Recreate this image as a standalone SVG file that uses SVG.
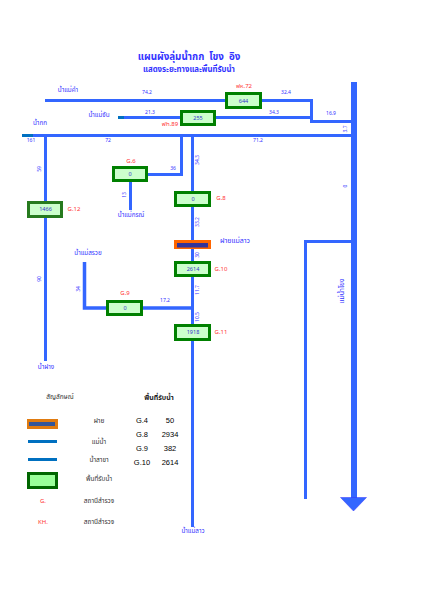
<svg xmlns="http://www.w3.org/2000/svg" width="421" height="598" viewBox="0 0 421 598">
<style>
text{font-family:"Noto Sans","Noto Sans Thai","Liberation Sans",sans-serif;text-anchor:middle}
.r{fill:none;stroke:#3366ff;stroke-width:3}
.b{fill:#ccffcc;stroke:#008000;stroke-width:3}
.n{font-size:5.5px;fill:#3333cc}
.d{font-size:5px;fill:#3333ff}
.l{font-size:6.3px;fill:#3333ff}
.s{font-size:6px;fill:#ff3333}
.k{font-size:6.5px;fill:#333333}
.t{font-size:7.5px;fill:#000000;font-family:"Liberation Sans",sans-serif}
</style>
<rect width="421" height="598" fill="#ffffff"/>
<g id="connectors">
<path class="r" d="M45 100.500H226M261 100.500H311.500V121.500H352"/>
<path class="r" d="M118 117.500H180M216 117.500H311"/>
<path class="r" d="M22 135.500H352"/>
<path class="r" d="M45.500 135V361"/>
<path class="r" d="M181.500 135V174.500H147"/>
<path class="r" d="M130.500 181V210"/>
<path class="r" d="M192.500 135V527"/>
<path class="r" d="M84.500 262V308H107M142 308H192" style="stroke-width:3.500"/>
<path class="r" d="M305.500 499V241.500H352"/>
<path d="M118 117.500h6M22 135.500h11" fill="none" stroke="#0070c0" stroke-width="3"/>
<rect x="351" y="82" width="6" height="416" fill="#3366ff"/>
<polygon points="340.500,497.500 366.500,497.500 353.500,511" fill="#3366ff" stroke="#3333ff" stroke-width="0.500"/>
</g>
<g id="title">
<text x="189" y="60" font-size="9.800" font-weight="bold" fill="#3333ff">แผนผังลุ่มน้ำกก&#160;&#160;โขง&#160;&#160;อิง</text>
<text x="189" y="72" font-size="7.800" font-weight="bold" fill="#3333ff">แสดงระยะทางและพื้นที่รับน้ำ</text>
</g>
<g id="node-kh72"><rect class="b" x="226.500" y="93.500" width="34" height="14"/><text class="n" x="243.500" y="102.500">644</text><text class="s" x="244" y="88">ฟห.72</text></g>
<g id="node-kh89"><rect class="b" x="181.500" y="111.500" width="33" height="13"/><text class="n" x="198" y="119.500">255</text><text class="s" x="170" y="125.500">ฟh.89</text></g>
<g id="node-g6"><rect class="b" x="113.500" y="167.500" width="33" height="13"/><text class="n" x="130" y="176">0</text><text class="s" x="131" y="162.500">G.6</text></g>
<g id="node-g8"><rect class="b" x="175.500" y="192.500" width="34" height="13"/><text class="n" x="193" y="200.500">0</text><text class="s" x="221" y="199.500">G.8</text></g>
<g id="node-g12"><rect class="b" x="28.500" y="202.500" width="33" height="14" style="stroke:#267a1e"/><text class="n" x="45.500" y="210.500">1466</text><text class="s" x="74" y="210.500">G.12</text></g>
<g id="node-weir"><rect x="174" y="240" width="37" height="9" fill="#ff6600"/><rect x="177" y="243" width="31" height="4.500" fill="#333399"/><text class="l" style="font-size:7px" x="235" y="243">ฝายแม่ลาว</text></g>
<g id="node-g10"><rect class="b" x="175.500" y="262.500" width="34" height="13"/><text class="n" x="193" y="271">2614</text><text class="s" x="221" y="271">G.10</text></g>
<g id="node-g9"><rect class="b" x="107.500" y="301.500" width="34" height="13"/><text class="n" x="125" y="309.500">0</text><text class="s" x="125" y="295">G.9</text></g>
<g id="node-g11"><rect class="b" x="175.500" y="325.500" width="34" height="14"/><text class="n" x="193" y="334">1918</text><text class="s" x="221" y="334">G.11</text></g>
<g id="labels">
<text class="l" x="68" y="92">น้ำแม่คำ</text>
<text class="l" x="99" y="117">น้ำแม่จัน</text>
<text class="l" x="40" y="125">น้ำกก</text>
<text class="l" x="131" y="217">น้ำแม่กรณ์</text>
<text class="l" x="88" y="255">น้ำแม่สรวย</text>
<text class="l" x="46" y="369">น้ำฝาง</text>
<text class="l" x="193" y="533">น้ำแม่ลาว</text>
<text class="l" style="font-size:7px" transform="translate(344,291) rotate(-90)">แม่น้ำโขง</text>
<text class="d" x="147" y="94">74.2</text>
<text class="d" x="286" y="94">32.4</text>
<text class="d" x="150" y="114">21.3</text>
<text class="d" x="274" y="114">34.3</text>
<text class="d" x="331" y="115">16.9</text>
<text class="d" x="31" y="142">161</text>
<text class="d" x="108" y="142">72</text>
<text class="d" x="258" y="142">71.2</text>
<text class="d" x="173" y="170">36</text>
<text class="d" transform="translate(347,129) rotate(-90)">3.7</text>
<text class="d" transform="translate(199,160) rotate(-90)">34.3</text>
<text class="d" transform="translate(41,169) rotate(-90)">59</text>
<text class="d" transform="translate(126,195) rotate(-90)">13</text>
<text class="d" transform="translate(199,222) rotate(-90)">33.2</text>
<text class="d" transform="translate(199,255) rotate(-90)">30</text>
<text class="d" transform="translate(199,290) rotate(-90)">11.7</text>
<text class="d" transform="translate(199,317) rotate(-90)">10.5</text>
<text class="d" transform="translate(41,279) rotate(-90)">90</text>
<text class="d" transform="translate(80,289) rotate(-90)">34</text>
<text class="d" x="165" y="302">17.2</text>
<text class="d" transform="translate(347,186) rotate(-90)">0</text>
</g>
<g id="legend">
<text class="k" x="60" y="399">สัญลักษณ์</text>
<rect x="27" y="419" width="31" height="10" fill="#e07b10"/><rect x="29" y="422" width="26" height="4" fill="#335599"/>
<text class="k" x="99" y="423">ฝาย</text>
<line x1="28" y1="441.500" x2="57" y2="441.500" stroke="#0070c0" stroke-width="3"/>
<text class="k" x="99" y="444">แม่น้ำ</text>
<line x1="28" y1="459.500" x2="57" y2="459.500" stroke="#0070c0" stroke-width="3"/>
<text class="k" x="99" y="462">น้ำสาขา</text>
<rect x="28.500" y="473.500" width="28" height="14" fill="#99ff99" stroke="#006600" stroke-width="3"/>
<text class="k" x="99" y="481">พื้นที่รับน้ำ</text>
<text class="s" x="43" y="503">G.</text><text class="k" x="99" y="503">สถานีสำรวจ</text>
<text class="s" x="43" y="524">KH.</text><text class="k" x="99" y="524">สถานีสำรวจ</text>
<text x="159" y="400" font-size="7" font-weight="bold" fill="#222222">พื้นที่รับน้ำ</text>
<text class="t" x="142" y="423">G.4</text><text class="t" x="170" y="423">50</text>
<text class="t" x="142" y="437">G.8</text><text class="t" x="170" y="437">2934</text>
<text class="t" x="142" y="451">G.9</text><text class="t" x="170" y="451">382</text>
<text class="t" x="142" y="465">G.10</text><text class="t" x="170" y="465">2614</text>
</g>
</svg>
